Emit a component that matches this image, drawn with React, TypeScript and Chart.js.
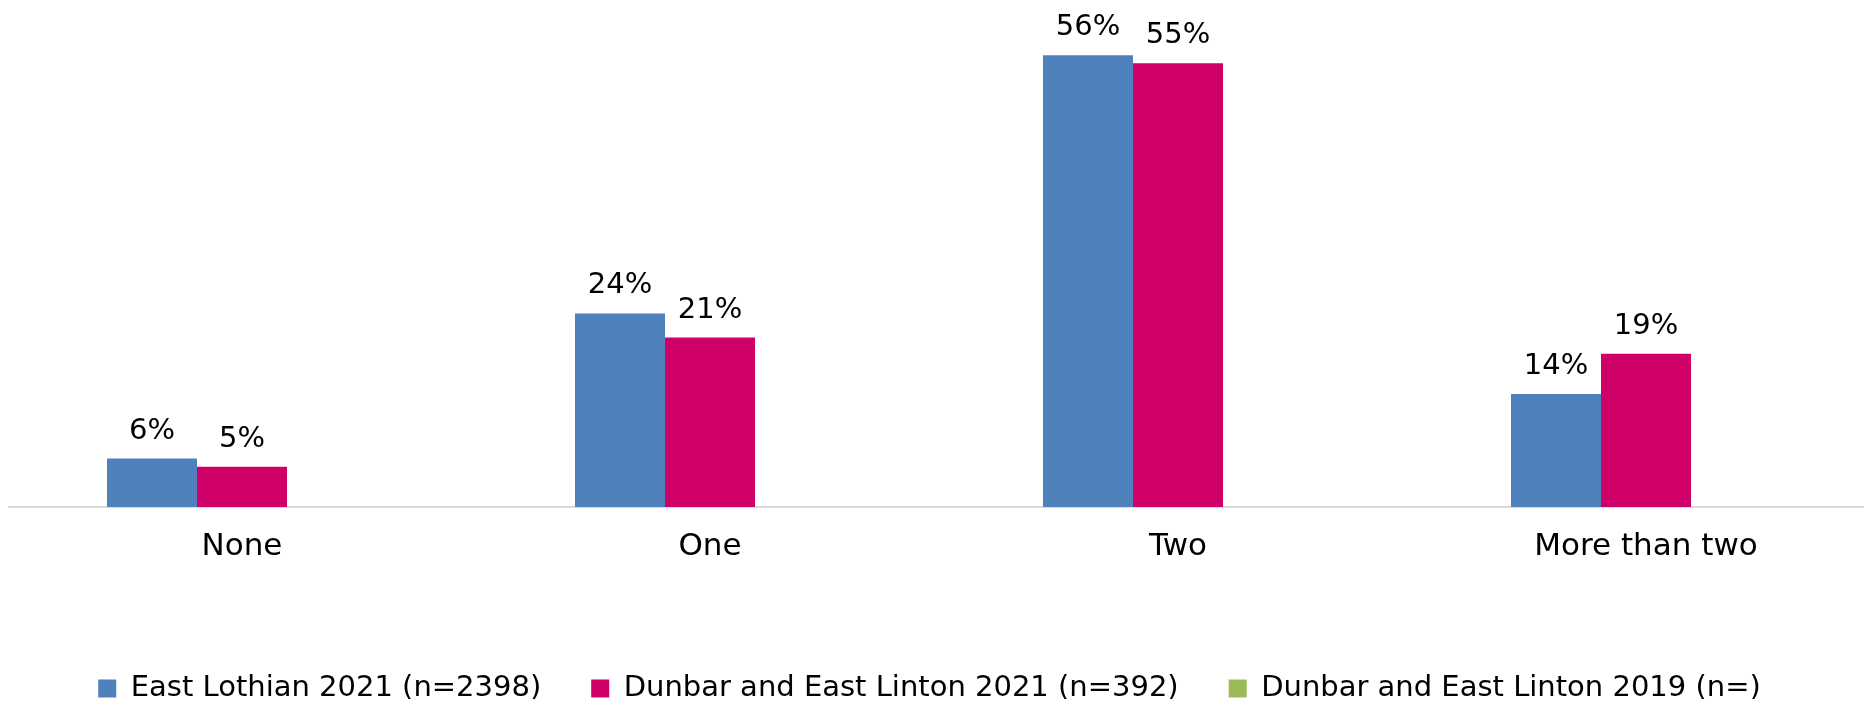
import React, { useEffect, useRef } from "react";
import { Chart, registerables } from "chart.js";

Chart.register(...registerables);

// ---- data ----
const categories = ["None", "One", "Two", "More than two"];
const seriesNames = [
  "East Lothian 2021 (n=2398)",
  "Dunbar and East Linton 2021 (n=392)",
  "Dunbar and East Linton 2019 (n=)",
];
const eastLothian2021 = [6, 24, 56, 14];
const dunbarEastLinton2021 = [5, 21, 55, 19];
const dunbarEastLinton2019: (number | null)[] = [null, null, null, null];
const seriesColors = ["#4F81BD", "#CF0068", "#9BBB59"];
const yMin = 0;
const yMax = 60;

// ---- layout ----
const CANVAS_W = 1872;
const CANVAS_H = 691;
const PLOT_TOP = 15;
const PLOT_BOTTOM = 499;
const LEGEND_TOP = 616;
const LEGEND_CENTER_X = 921.5;
const FONT = "'DejaVu Sans', sans-serif";

const valueLabels = {
  id: "valueLabels",
  afterDatasetsDraw(chart: any) {
    const ctx = chart.ctx;
    ctx.save();
    ctx.font = `29px ${FONT}`;
    ctx.fillStyle = "#000000";
    ctx.textAlign = "center";
    ctx.textBaseline = "alphabetic";
    chart.data.datasets.forEach((ds: any, i: number) => {
      const meta = chart.getDatasetMeta(i);
      if (meta.hidden) return;
      meta.data.forEach((el: any, j: number) => {
        const v = ds.data[j];
        if (v === null || v === undefined) return;
        ctx.fillText(`${v}%`, el.x, el.y - 20);
      });
    });
    ctx.restore();
  },
};

const legendPlacer = {
  id: "legendPlacer",
  afterLayout(chart: any) {
    const lg = chart.legend;
    if (!lg) return;
    const h = lg.bottom - lg.top;
    const w = lg.right - lg.left;
    lg.top = LEGEND_TOP;
    lg.bottom = LEGEND_TOP + h;
    lg.left = LEGEND_CENTER_X - w / 2;
    lg.right = LEGEND_CENTER_X + w / 2;
  },
};

export default function App() {
  const ref = useRef<HTMLCanvasElement | null>(null);

  useEffect(() => {
    if (!ref.current) return;
    const data = [eastLothian2021, dunbarEastLinton2021, dunbarEastLinton2019];
    const chart = new Chart(ref.current, {
      type: "bar",
      data: {
        labels: categories,
        datasets: data.map((d, i) => ({
          label: seriesNames[i],
          data: d,
          backgroundColor: seriesColors[i],
          borderColor: seriesColors[i],
          borderWidth: 0,
          categoryPercentage: 270 / 468,
          barPercentage: 1,
        })),
      },
      options: {
        responsive: false,
        animation: false,
        devicePixelRatio: 1,
        layout: { padding: { top: PLOT_TOP, left: 0, right: 0, bottom: 0 } },
        scales: {
          x: {
            grid: { display: false, drawTicks: false },
            border: { display: true, color: "#D9D9D9", width: 2 },
            ticks: {
              color: "#000000",
              font: { family: FONT, size: 31 },
              padding: 21,
              maxRotation: 0,
              autoSkip: false,
            },
            afterFit: (scale: any) => {
              const lg = scale.chart.legend;
              scale.height = CANVAS_H - PLOT_BOTTOM - (lg ? lg.height : 0);
            },
          },
          y: {
            display: false,
            min: yMin,
            max: yMax,
          },
        },
        plugins: {
          tooltip: { enabled: false },
          legend: {
            display: true,
            position: "bottom",
            labels: {
              color: "#000000",
              font: { family: FONT, size: 29 },
              boxWidth: 18,
              boxHeight: 18,
              padding: 50,
            },
          },
        },
      },
      plugins: [valueLabels, legendPlacer],
    } as any);
    return () => chart.destroy();
  }, []);

  return (
    <div style={{ width: 1856, height: CANVAS_H, overflow: "hidden" }}>
      <div style={{ width: CANVAS_W, height: CANVAS_H }}>
        <canvas
          ref={ref}
          width={CANVAS_W}
          height={CANVAS_H}
          style={{ display: "block", width: CANVAS_W, height: CANVAS_H }}
        />
      </div>
    </div>
  );
}
